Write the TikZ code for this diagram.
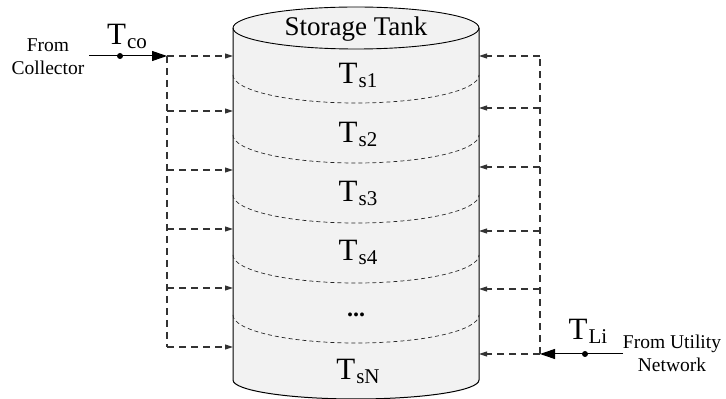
\documentclass[tikz,border=0pt]{standalone}
\usepackage{fontspec}
\setmainfont{Liberation Serif}
\usetikzlibrary{arrows.meta,positioning}

\begin{document}
\begin{tikzpicture}[x=1pt,y=1pt]
  \tikzset{
  	flow/.style={draw=black!80, line width=1.1pt, dash pattern=on 7pt off 5pt, -{Triangle[length=8pt,width=5pt]}},
  	feed/.style={draw=black!80, line width=1.1pt, dash pattern=on 7pt off 5pt},
  	inlet/.style={draw, line width=1pt, -{Triangle[length=15pt,width=10pt]}},
  	layer/.style={draw=black!85, line width=0.7pt, dash pattern=on 4pt off 3pt},
  	temp/.style={anchor=base, inner sep=0pt},
  	note/.style={anchor=base, inner sep=0pt, align=center, font=\fontsize{19.5}{23}\selectfont},
  	dot/.style={circle,fill=black,minimum size=6pt,inner sep=0pt},
  }
  \def\T#1{{\fontsize{31}{36}\selectfont T}\kern1pt\raisebox{-3.5pt}{\fontsize{21}{24}\selectfont #1}}
  \useasboundingbox (0,0) rectangle (726,399);

  % The tank itself.
  \fill[black!5] (233,371) -- (233,19) arc[start angle=180,end angle=360,x radius=123,y radius=19]
    -- (479,371) arc[start angle=0,end angle=180,x radius=123,y radius=21] -- cycle;
  \draw[line width=1pt] (233,371) -- (233,19) arc[start angle=180,end angle=360,x radius=123,y radius=19] -- (479,371);
  \draw[line width=0.9pt] (356,371) ellipse[x radius=123,y radius=21];

  % Layer boundaries.
  \draw[layer] (233,324) arc[start angle=180,end angle=360,x radius=123,y radius=28];
  \draw[layer] (233,264) arc[start angle=180,end angle=360,x radius=123,y radius=28];
  \draw[layer] (233,204) arc[start angle=180,end angle=360,x radius=123,y radius=28];
  \draw[layer] (233,144) arc[start angle=180,end angle=360,x radius=123,y radius=28];
  \draw[layer] (233,84) arc[start angle=180,end angle=360,x radius=123,y radius=28];

  % Labels in the tank.
  \node[temp, font=\fontsize{27}{30}\selectfont] (title) at (356,363) {Storage Tank};
  \node[temp] (ts1) at (358,315) {\T{s1}};
  \node[temp] (ts2) at (358,256) {\T{s2}};
  \node[temp] (ts3) at (358,197) {\T{s3}};
  \node[temp] (ts4) at (358,138) {\T{s4}};
  \node[font=\fontsize{24}{26}\selectfont\bfseries] (tsd) at (356,84) {...};
  \node[temp] (tsn) at (358,19) {\T{sN}};

  % Collector side.
  \node[note] (coll) at (48,324) {From\\Collector};
  \coordinate (cin) at (89,343);
  \node[dot] (cdot) at (120,343) {};
  \node[temp] (tco) at (127,354) {\T{co}};
  \coordinate (ctop) at (167,343);
  \coordinate (cbot) at (167,52);
  \draw[inlet] (cin) -- (ctop);
  \draw[feed] (ctop) -- (cbot);
  \coordinate (l1) at (233,343);
  \coordinate (l2) at (233,288);
  \coordinate (l3) at (233,229);
  \coordinate (l4) at (233,170);
  \coordinate (l5) at (233,111);
  \coordinate (l6) at (233,52);
  \draw[flow] (ctop) -- (l1);
  \draw[flow] (167,288) -- (l2);
  \draw[flow] (167,229) -- (l3);
  \draw[flow] (167,170) -- (l4);
  \draw[flow] (167,111) -- (l5);
  \draw[flow] (cbot) -- (l6);

  % Utility side.
  \node[note] (util) at (672,27) {From Utility\\Network};
  \coordinate (uin) at (623,45);
  \node[dot] (udot) at (585,45) {};
  \node[temp] (tli) at (588,59) {\T{Li}};
  \coordinate (ubot) at (540,45);
  \coordinate (utop) at (540,343);
  \draw[inlet] (uin) -- (ubot);
  \draw[feed] (ubot) -- (utop);
  \coordinate (r1) at (479,343);
  \coordinate (r2) at (479,291);
  \coordinate (r3) at (479,232);
  \coordinate (r4) at (479,168);
  \coordinate (r5) at (479,110);
  \coordinate (r6) at (479,45);
  \draw[flow] (utop) -- (r1);
  \draw[flow] (540,291) -- (r2);
  \draw[flow] (540,232) -- (r3);
  \draw[flow] (540,168) -- (r4);
  \draw[flow] (540,110) -- (r5);
  \draw[flow] (ubot) -- (r6);
\end{tikzpicture}
\end{document}
